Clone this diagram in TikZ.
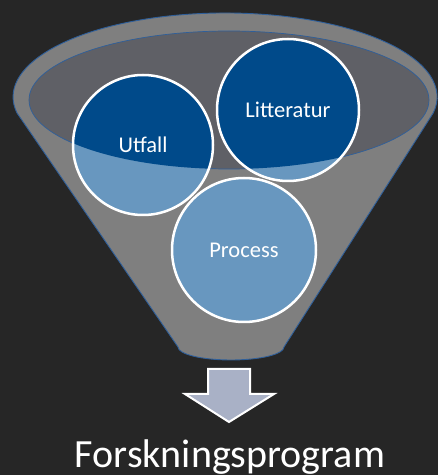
\documentclass[tikz,border=0pt]{standalone}
\usepackage{fontspec}
\setmainfont{Carlito}
\usepackage{xcolor}
\usetikzlibrary{positioning,calc}
\definecolor{bgdark}{HTML}{262626}
\definecolor{funnelgray}{HTML}{7F7F7F}
\definecolor{rimgray}{HTML}{5F6066}
\definecolor{rimblue}{HTML}{2F5F9A}
\definecolor{balldark}{HTML}{004A8A}
\definecolor{balllight}{HTML}{6897BF}
\definecolor{arrowfill}{HTML}{A9B1C6}

\begin{document}
\begin{tikzpicture}[x=1pt,y=1pt,
    ball/.style={circle,draw=white,line width=2.5pt,minimum size=#1,inner sep=0pt,
        text=white,font=\fontsize{22.5}{27}\selectfont},
    ball/.default=142pt]
    \fill[bgdark] (0,0) rectangle (438,475);
    \useasboundingbox (0,0) rectangle (438,475);
    \coordinate (cU) at (143,330);
    \coordinate (cL) at (288,365);
    \coordinate (cP) at (244,225);
    \draw[rimblue,fill=funnelgray,line width=0.9pt] (17,362) arc[start angle=191,end angle=-11,x radius=212,y radius=84]
        -- (284,128) arc[start angle=0,end angle=-180,x radius=53,y radius=13] -- cycle;
    \draw[rimblue,fill=rimgray,line width=0.7pt] (229,375) ellipse[x radius=200,y radius=69];
    \fill[balllight] (cU) circle (70) (cL) circle (71) (cP) circle (72);
    \begin{scope}
        \clip (229,375) ellipse[x radius=200,y radius=69];
        \fill[balldark] (cU) circle (70) (cL) circle (71) (cP) circle (72);
    \end{scope}
    \node[ball=140pt] (utfall) at (cU) {Utfall};
    \node[ball] (litteratur) at (cL) {Litteratur};
    \node[ball=144pt] (process) at (cP) {Process};
    \draw[white,fill=arrowfill,line width=2pt,line join=miter] (208,106) -- (250,106) -- (250,81) -- (274,81)
        -- (229,53) -- (185,81) -- (208,81) -- cycle;
    \node[anchor=base,text=white,font=\fontsize{40}{48}\selectfont] (program) at (230,8) {Forskningsprogram};
\end{tikzpicture}
\end{document}
